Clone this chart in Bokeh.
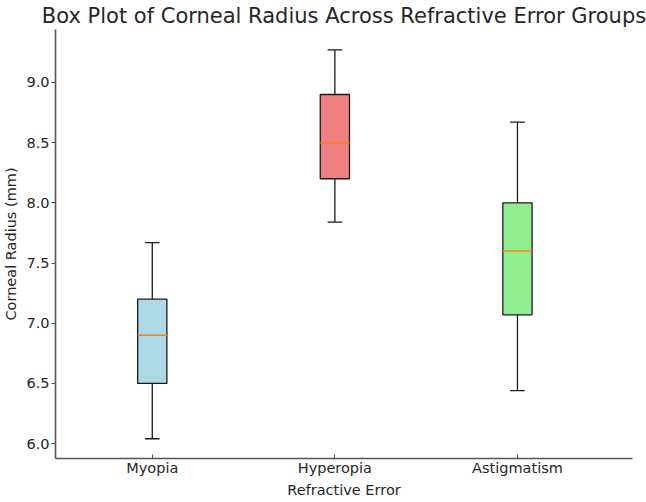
from bokeh.plotting import figure
from bokeh.models import ColumnDataSource, Range1d, FixedTicker, NumeralTickFormatter
from bokeh.embed import file_html
from bokeh.resources import INLINE

categories = ["Myopia", "Hyperopia", "Astigmatism"]
positions = [1, 2, 3]
lower_whisker = [6.04, 7.84, 6.44]
q1 = [6.50, 8.20, 7.07]
median = [6.90, 8.50, 7.60]
q3 = [7.20, 8.90, 8.00]
upper_whisker = [7.67, 9.27, 8.67]
box_colors = ["#ADD8E6", "#F08080", "#90EE90"]
y_ticks = [6.0, 6.5, 7.0, 7.5, 8.0, 8.5, 9.0]

box_w = 0.16
cap_w = 0.08

src = ColumnDataSource(dict(
    x=positions,
    lw=lower_whisker, q1=q1, med=median, q3=q3, uw=upper_whisker,
    color=box_colors,
    bl=[p - box_w / 2 for p in positions],
    br=[p + box_w / 2 for p in positions],
    cl=[p - cap_w / 2 for p in positions],
    cr=[p + cap_w / 2 for p in positions],
))

FONT = "DejaVu Sans"
TXT = "#262626"

p = figure(width=646, height=502, output_backend="svg", toolbar_location=None,
           x_range=Range1d(0.47, 3.63), y_range=Range1d(5.876, 9.44),
           title="Box Plot of Corneal Radius Across Refractive Error Groups",
           min_border_left=55, min_border_right=14, min_border_top=28, min_border_bottom=44)
p.outline_line_color = None
p.grid.visible = False

p.title.text_font = FONT
p.title.text_font_size = "21px"
p.title.text_font_style = "normal"
p.title.text_color = TXT
p.title.align = "center"
p.title.offset = 0
p.title.standoff = 3

# whiskers
p.segment(x0="x", x1="x", y0="q3", y1="uw", source=src, line_color="#1a1a1a", line_width=1.3)
p.segment(x0="x", x1="x", y0="lw", y1="q1", source=src, line_color="#1a1a1a", line_width=1.3)
# caps
p.segment(x0="cl", x1="cr", y0="uw", y1="uw", source=src, line_color="#1a1a1a", line_width=1.3)
p.segment(x0="cl", x1="cr", y0="lw", y1="lw", source=src, line_color="#1a1a1a", line_width=1.3)
# boxes
p.vbar(x="x", width=box_w, top="q3", bottom="q1", source=src,
       fill_color="color", line_color="#1a1a1a", line_width=1.3)
# medians
p.segment(x0="bl", x1="br", y0="med", y1="med", source=src, line_color="#ff7f0e", line_width=1.5)

for ax in (p.xaxis[0], p.yaxis[0]):
    ax.axis_line_color = "#555555"
    ax.axis_line_width = 1.6
    ax.major_tick_line_color = "#555555"
    ax.minor_tick_line_color = None
    ax.minor_tick_out = 0
    ax.minor_tick_in = 0
    ax.major_label_text_font = FONT
    ax.major_label_text_font_size = "14.5px"
    ax.major_label_text_color = TXT
    ax.axis_label_text_font = FONT
    ax.axis_label_text_font_size = "14.5px"
    ax.axis_label_text_font_style = "normal"
    ax.axis_label_text_color = TXT

p.xaxis.ticker = FixedTicker(ticks=positions)
p.xaxis.major_label_overrides = {pos: c for pos, c in zip(positions, categories)}
p.xaxis.major_tick_in = 4
p.xaxis.major_tick_out = 0
p.xaxis.major_label_standoff = 1
p.xaxis.axis_label = "Refractive Error"
p.xaxis.axis_label_standoff = 3

p.yaxis.ticker = FixedTicker(ticks=y_ticks)
p.yaxis.formatter = NumeralTickFormatter(format="0.0")
p.yaxis.major_tick_in = 0
p.yaxis.major_tick_out = 4
p.yaxis.major_label_standoff = 2
p.yaxis.axis_label = "Corneal Radius (mm)"
p.yaxis.axis_label_standoff = 4

open("out.html", "w").write(file_html(p, INLINE))
